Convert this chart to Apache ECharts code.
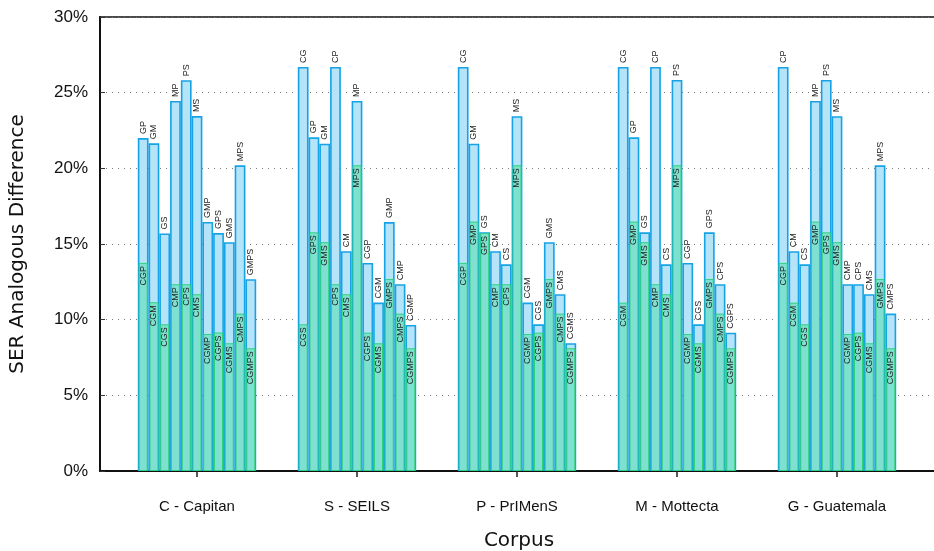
<!DOCTYPE html>
<html>
<head>
<meta charset="utf-8">
<script src="https://cdn.jsdelivr.net/npm/echarts@6/dist/echarts.min.js"></script>
<style>
  html, body { margin: 0; padding: 0; background: #fff; }
  #chart { width: 934px; height: 551px; }
</style>
</head>
<body>
<div id="chart"></div>
<script>
// corpora on the x axis
const corpora = ['C - Capitan', 'S - SEILS', 'P - PrIMenS', 'M - Mottecta', 'G - Guatemala'];

// light blue bars (outer), one row per corpus, 11 bars each
const outerNames = [
  ['GP', 'GM', 'GS', 'MP', 'PS', 'MS', 'GMP', 'GPS', 'GMS', 'MPS', 'GMPS'],
  ['CG', 'GP', 'GM', 'CP', 'CM', 'MP', 'CGP', 'CGM', 'GMP', 'CMP', 'CGMP'],
  ['CG', 'GM', 'GS', 'CM', 'CS', 'MS', 'CGM', 'CGS', 'GMS', 'CMS', 'CGMS'],
  ['CG', 'GP', 'GS', 'CP', 'CS', 'PS', 'CGP', 'CGS', 'GPS', 'CPS', 'CGPS'],
  ['CP', 'CM', 'CS', 'MP', 'PS', 'MS', 'CMP', 'CPS', 'CMS', 'MPS', 'CMPS']
];
const outerValues = [
  [22.0, 21.65, 15.7, 24.45, 25.82, 23.45, 16.46, 15.72, 15.12, 20.2, 12.67],
  [26.7, 22.05, 21.63, 26.7, 14.52, 24.45, 13.75, 11.13, 16.45, 12.34, 9.65],
  [26.7, 21.63, 15.77, 14.52, 13.66, 23.44, 11.13, 9.69, 15.12, 11.68, 8.44],
  [26.7, 22.05, 15.77, 26.7, 13.66, 25.84, 13.75, 9.69, 15.77, 12.34, 9.14],
  [26.7, 14.52, 13.66, 24.45, 25.84, 23.44, 12.34, 12.34, 11.68, 20.2, 10.4]
];

// green bars (inner), same layout
const innerNames = [
  ['CGP', 'CGM', 'CGS', 'CMP', 'CPS', 'CMS', 'CGMP', 'CGPS', 'CGMS', 'CMPS', 'CGMPS'],
  ['CGS', 'GPS', 'GMS', 'CPS', 'CMS', 'MPS', 'CGPS', 'CGMS', 'GMPS', 'CMPS', 'CGMPS'],
  ['CGP', 'GMP', 'GPS', 'CMP', 'CPS', 'MPS', 'CGMP', 'CGPS', 'GMPS', 'CMPS', 'CGMPS'],
  ['CGM', 'GMP', 'GMS', 'CMP', 'CMS', 'MPS', 'CGMP', 'CGMS', 'GMPS', 'CMPS', 'CGMPS'],
  ['CGP', 'CGM', 'CGS', 'GMP', 'GPS', 'GMS', 'CGMP', 'CGPS', 'CGMS', 'GMPS', 'CGMPS']
];
const innerValues = [
  [13.75, 11.15, 9.69, 12.34, 12.34, 11.68, 9.05, 9.15, 8.44, 10.4, 8.11],
  [9.69, 15.77, 15.12, 12.34, 11.68, 20.2, 9.14, 8.44, 12.69, 10.4, 8.11],
  [13.75, 16.48, 15.72, 12.34, 12.34, 20.2, 9.05, 9.14, 12.69, 10.4, 8.11],
  [11.12, 16.48, 15.12, 12.34, 11.68, 20.2, 9.05, 8.44, 12.69, 10.4, 8.11],
  [13.75, 11.12, 9.69, 16.48, 15.77, 15.12, 9.05, 9.14, 8.44, 12.69, 8.11]
];

const BAR_COUNT = 11;
const labelFont = { fontSize: 9, fontFamily: 'Liberation Sans', color: '#222' };

const series = [];
for (let i = 0; i < BAR_COUNT; i++) {
  series.push({
    type: 'bar',
    xAxisIndex: 1,
    yAxisIndex: 1,
    data: outerValues.map(g => g[i]),
    barGap: 0,
    barCategoryGap: '26%',
    z: 2,
    itemStyle: { color: '#b5e3f8', borderColor: '#16a2e6', borderWidth: 1.6 },
    label: Object.assign({
      show: true,
      position: 'top',
      rotate: 90,
      align: 'left',
      verticalAlign: 'middle',
      distance: 4,
      formatter: p => outerNames[p.dataIndex][i]
    }, labelFont)
  });
}
for (let i = 0; i < BAR_COUNT; i++) {
  series.push({
    type: 'bar',
    xAxisIndex: 2,
    yAxisIndex: 1,
    data: innerValues.map(g => g[i]),
    barWidth: 9,
    barGap: '19.5%',
    z: 3,
    itemStyle: { color: '#7fe0d1', borderColor: '#2fd27a', borderWidth: 1 },
    label: Object.assign({
      show: true,
      position: 'insideTop',
      rotate: 90,
      align: 'right',
      verticalAlign: 'middle',
      distance: 3,
      formatter: p => innerNames[p.dataIndex][i]
    }, labelFont)
  });
}

const option = {
  animation: false,
  grid: [
    { left: 100, right: -4, top: 17, bottom: 80, outerBoundsMode: 'none', show: true, borderColor: '#111', borderWidth: 1.5 },
    { left: 117, right: 17, top: 17, bottom: 80, outerBoundsMode: 'none' }
  ],
  xAxis: [
    {
      gridIndex: 0,
      type: 'value',
      min: 0,
      max: 1,
      name: 'Corpus',
      nameLocation: 'middle',
      nameGap: 60,
      nameTextStyle: { fontFamily: 'DejaVu Sans', fontSize: 20, color: '#111' },
      axisLine: { show: true, lineStyle: { color: '#111', width: 2 } },
      axisTick: { show: false },
      axisLabel: { show: false },
      splitLine: { show: false }
    },
    {
      gridIndex: 1,
      type: 'category',
      data: corpora,
      axisLine: { show: false },
      axisTick: { show: true, alignWithLabel: true, length: 6, lineStyle: { color: '#222', width: 1.5 } },
      axisLabel: { margin: 28, fontFamily: 'Liberation Sans', fontSize: 15, color: '#111' }
    },
    {
      gridIndex: 1,
      type: 'category',
      data: corpora,
      show: false
    }
  ],
  yAxis: [
    {
      gridIndex: 0,
      type: 'value',
      min: 0,
      max: 30,
      interval: 5,
      name: 'SER Analogous Difference',
      nameLocation: 'middle',
      nameGap: 72,
      nameTextStyle: { fontFamily: 'DejaVu Sans', fontSize: 20, color: '#111' },
      axisLine: { show: true, lineStyle: { color: '#111', width: 2 } },
      axisTick: { show: true, inside: true, length: 5, lineStyle: { color: '#333' } },
      axisLabel: { formatter: '{value}%', margin: 12, fontFamily: 'Liberation Sans', fontSize: 17, color: '#111' },
      splitLine: { show: true, lineStyle: { type: [1, 5], color: '#777', width: 1 } }
    },
    {
      gridIndex: 1,
      type: 'value',
      min: 0,
      max: 30,
      show: false,
      splitLine: { show: false }
    }
  ],
  series: series
};

const chart = echarts.init(document.getElementById('chart'));
chart.setOption(option);
</script>
</body>
</html>
